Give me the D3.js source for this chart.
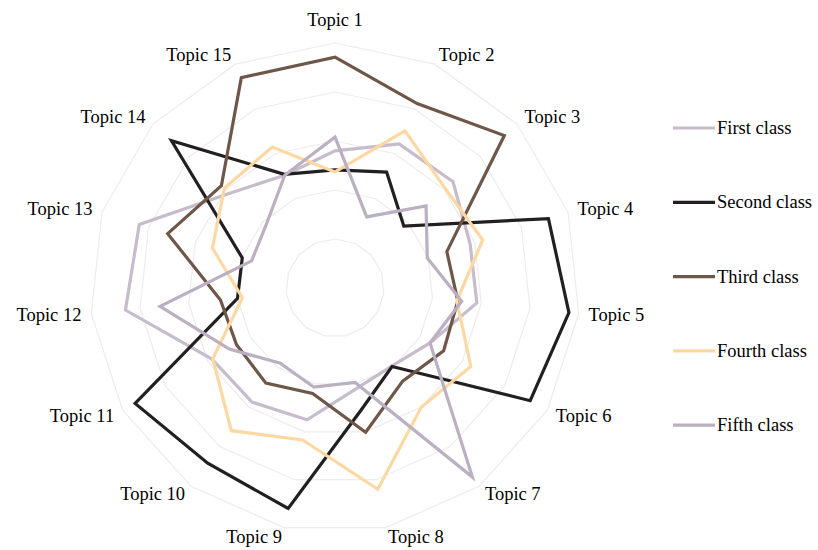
<!DOCTYPE html>
<html>
<head>
<meta charset="utf-8">
<script src="https://cdn.jsdelivr.net/npm/d3@7"></script>
<style>
  html, body { margin: 0; padding: 0; background: #ffffff; }
  svg { display: block; }
  text { font-family: "Liberation Serif", "Times New Roman", serif; fill: #000; }
</style>
</head>
<body>
<svg id="chart" width="818" height="550"></svg>
<script>
// Topic axes of the radar
const topics = ["Topic 1", "Topic 2", "Topic 3", "Topic 4", "Topic 5", "Topic 6", "Topic 7",
  "Topic 8", "Topic 9", "Topic 10", "Topic 11", "Topic 12", "Topic 13", "Topic 14", "Topic 15"];

// One value per topic for each class
const firstClass  = [2.8, 3.22, 3.24, 2.9, 2.91, 2.24, 1.97, 2.1, 2.75, 2.88, 2.9, 4.3, 4.2, 2.89, 2.52];
const secondClass = [2.41, 2.59, 1.89, 4.58, 4.8, 4.6, 1.98, 2.55, 4.6, 4.42, 4.71, 2.0, 1.99, 4.49, 2.54];
const thirdClass  = [4.71, 4.12, 4.65, 2.4, 2.52, 2.56, 2.35, 3.01, 2.2, 2.4, 2.32, 2.35, 3.59, 3.12, 4.7];
const fourthClass = [2.37, 3.51, 3.03, 3.17, 2.5, 3.2, 3.0, 4.2, 3.17, 3.6, 2.88, 1.9, 2.63, 3.04, 3.15];
const fifthClass  = [3.08, 1.59, 2.5, 1.98, 2.6, 2.24, 4.77, 1.97, 2.07, 1.9, 2.49, 3.59, 1.79, 1.9, 2.52];

const seriesNames  = ["First class", "Second class", "Third class", "Fourth class", "Fifth class"];
const seriesValues = [firstClass, secondClass, thirdClass, fourthClass, fifthClass];
const seriesColors = ["#c6bccb", "#231f20", "#6e5748", "#fdd8a2", "#bbafc2"];

// Gridline levels
const ringLevels = [1, 2, 3, 4, 5];

const svg = d3.select("#chart");
const cx = 335, cy = 288;
const outerR = 245;

const r = d3.scaleLinear().domain([0, 5]).range([0, outerR]);
const step = 2 * Math.PI / topics.length;
const ang = i => i * step;

const g = svg.append("g").attr("transform", `translate(${cx},${cy})`);

// Concentric 15-sided gridlines
const radialPath = d3.lineRadial()
  .angle((d, i) => ang(i))
  .radius(d => r(d))
  .curve(d3.curveLinearClosed);

g.selectAll("path.ring")
  .data(ringLevels)
  .join("path")
  .attr("class", "ring")
  .attr("d", lv => radialPath(topics.map(() => lv)))
  .attr("fill", "none")
  .attr("stroke", "#ececec")
  .attr("stroke-width", 1.2);

// Class polygons
g.selectAll("path.series")
  .data(seriesValues)
  .join("path")
  .attr("class", "series")
  .attr("d", d => radialPath(d))
  .attr("fill", "none")
  .attr("stroke", (d, i) => seriesColors[i])
  .attr("stroke-width", 3.2)
  .attr("stroke-linejoin", "miter");

// Topic labels around the outer ring
const labelR = outerR + 10;
g.selectAll("text.topic")
  .data(topics)
  .join("text")
  .attr("class", "topic")
  .attr("font-size", 18.5)
  .attr("dominant-baseline", "central")
  .attr("text-anchor", (d, i) => {
    const s = Math.sin(ang(i));
    if (Math.abs(s) < 0.01) return "middle";
    return s > 0 ? "start" : "end";
  })
  .attr("x", (d, i) => labelR * Math.sin(ang(i)))
  .attr("y", (d, i) => {
    const y = -labelR * Math.cos(ang(i));
    return i === 0 ? y - 13 : y;
  })
  .text(d => d);

// Legend
const legend = svg.append("g").attr("transform", "translate(673,128)");
const item = legend.selectAll("g.item")
  .data(seriesNames)
  .join("g")
  .attr("class", "item")
  .attr("transform", (d, i) => `translate(0,${i * 74.3})`);

item.append("line")
  .attr("x1", 0).attr("x2", 42)
  .attr("y1", 0).attr("y2", 0)
  .attr("stroke", (d, i) => seriesColors[i])
  .attr("stroke-width", 3.2);

item.append("text")
  .attr("x", 44)
  .attr("y", 0)
  .attr("dominant-baseline", "central")
  .attr("font-size", 18.5)
  .text(d => d);
</script>
</body>
</html>
